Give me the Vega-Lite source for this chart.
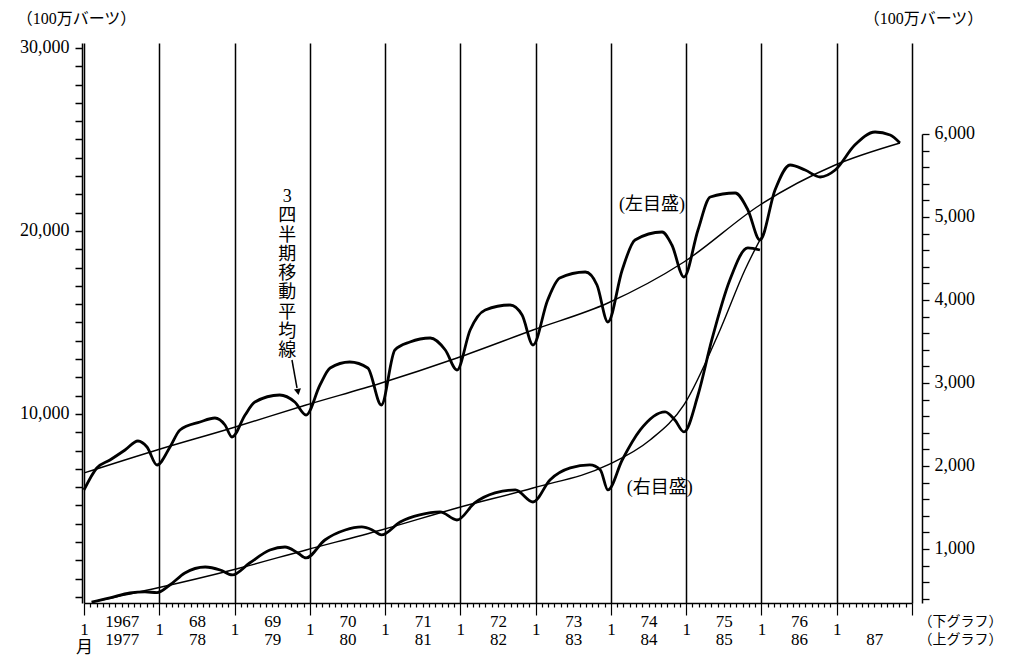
{
  "$schema": "https://vega.github.io/schema/vega-lite/v6.json",
  "width": 828,
  "height": 560,
  "autosize": {"type": "none"},
  "padding": {"left": 84, "top": 43, "right": 108, "bottom": 62},
  "background": "white",
  "config": {"view": {"stroke": null}},
  "datasets": {
    "upper": [
      {"kind": "raw", "t": 0, "v": 5847}, {"kind": "raw", "t": 0.17, "v": 7049}, {"kind": "raw", "t": 0.345, "v": 7486}, {"kind": "raw", "t": 0.545, "v": 8033}, {"kind": "raw", "t": 0.717, "v": 8525}, {"kind": "raw", "t": 0.837, "v": 8197}, {"kind": "raw", "t": 0.97, "v": 7213},
      {"kind": "raw", "t": 1.143, "v": 8197}, {"kind": "raw", "t": 1.275, "v": 9126}, {"kind": "raw", "t": 1.541, "v": 9563}, {"kind": "raw", "t": 1.74, "v": 9781}, {"kind": "raw", "t": 1.873, "v": 9399}, {"kind": "raw", "t": 1.966, "v": 8743},
      {"kind": "raw", "t": 2.14, "v": 9945}, {"kind": "raw", "t": 2.27, "v": 10656}, {"kind": "raw", "t": 2.6, "v": 11038}, {"kind": "raw", "t": 2.8, "v": 10656}, {"kind": "raw", "t": 2.95, "v": 9945},
      {"kind": "raw", "t": 3.135, "v": 11585}, {"kind": "raw", "t": 3.27, "v": 12514}, {"kind": "raw", "t": 3.53, "v": 12842}, {"kind": "raw", "t": 3.77, "v": 12514}, {"kind": "raw", "t": 3.95, "v": 10492},
      {"kind": "raw", "t": 4.13, "v": 13497}, {"kind": "raw", "t": 4.33, "v": 13934}, {"kind": "raw", "t": 4.6, "v": 14153}, {"kind": "raw", "t": 4.8, "v": 13497}, {"kind": "raw", "t": 4.955, "v": 12404},
      {"kind": "raw", "t": 5.13, "v": 14590}, {"kind": "raw", "t": 5.33, "v": 15683}, {"kind": "raw", "t": 5.66, "v": 15956}, {"kind": "raw", "t": 5.82, "v": 15410}, {"kind": "raw", "t": 5.965, "v": 13770},
      {"kind": "raw", "t": 6.16, "v": 16230}, {"kind": "raw", "t": 6.32, "v": 17432}, {"kind": "raw", "t": 6.66, "v": 17760}, {"kind": "raw", "t": 6.815, "v": 17049}, {"kind": "raw", "t": 6.96, "v": 15027},
      {"kind": "raw", "t": 7.15, "v": 17869}, {"kind": "raw", "t": 7.32, "v": 19508}, {"kind": "raw", "t": 7.68, "v": 19945}, {"kind": "raw", "t": 7.81, "v": 19235}, {"kind": "raw", "t": 7.97, "v": 17486},
      {"kind": "raw", "t": 8.157, "v": 20055}, {"kind": "raw", "t": 8.32, "v": 21858}, {"kind": "raw", "t": 8.65, "v": 22077}, {"kind": "raw", "t": 8.82, "v": 21148}, {"kind": "raw", "t": 8.98, "v": 19508},
      {"kind": "raw", "t": 9.18, "v": 22240}, {"kind": "raw", "t": 9.38, "v": 23607}, {"kind": "raw", "t": 9.58, "v": 23333}, {"kind": "raw", "t": 9.78, "v": 22951}, {"kind": "raw", "t": 9.98, "v": 23333},
      {"kind": "raw", "t": 10.24, "v": 24699}, {"kind": "raw", "t": 10.51, "v": 25410}, {"kind": "raw", "t": 10.71, "v": 25246}, {"kind": "raw", "t": 10.84, "v": 24809},
      {"kind": "ma", "t": 0, "v": 6776}, {"kind": "ma", "t": 0.97, "v": 8033}, {"kind": "ma", "t": 1.966, "v": 9235}, {"kind": "ma", "t": 2.95, "v": 10492}, {"kind": "ma", "t": 3.95, "v": 11694}, {"kind": "ma", "t": 4.955, "v": 13060}, {"kind": "ma", "t": 5.965, "v": 14590}, {"kind": "ma", "t": 6.96, "v": 16066}, {"kind": "ma", "t": 7.97, "v": 18306}, {"kind": "ma", "t": 8.98, "v": 21421}, {"kind": "ma", "t": 9.98, "v": 23607}, {"kind": "ma", "t": 10.84, "v": 24809}
    ],
    "lower": [
      {"kind": "raw", "t": 0.1, "v": 360}, {"kind": "raw", "t": 0.345, "v": 410}, {"kind": "raw", "t": 0.61, "v": 470}, {"kind": "raw", "t": 0.81, "v": 482}, {"kind": "raw", "t": 0.97, "v": 475},
      {"kind": "raw", "t": 1.14, "v": 566}, {"kind": "raw", "t": 1.34, "v": 711}, {"kind": "raw", "t": 1.61, "v": 783}, {"kind": "raw", "t": 1.81, "v": 747}, {"kind": "raw", "t": 1.97, "v": 687},
      {"kind": "raw", "t": 2.2, "v": 831}, {"kind": "raw", "t": 2.47, "v": 988}, {"kind": "raw", "t": 2.67, "v": 1024}, {"kind": "raw", "t": 2.84, "v": 952}, {"kind": "raw", "t": 2.95, "v": 892},
      {"kind": "raw", "t": 3.2, "v": 1108}, {"kind": "raw", "t": 3.47, "v": 1229}, {"kind": "raw", "t": 3.69, "v": 1265}, {"kind": "raw", "t": 3.83, "v": 1229}, {"kind": "raw", "t": 3.95, "v": 1169},
      {"kind": "raw", "t": 4.2, "v": 1325}, {"kind": "raw", "t": 4.46, "v": 1410}, {"kind": "raw", "t": 4.73, "v": 1446}, {"kind": "raw", "t": 4.955, "v": 1349},
      {"kind": "raw", "t": 5.19, "v": 1554}, {"kind": "raw", "t": 5.46, "v": 1675}, {"kind": "raw", "t": 5.73, "v": 1711}, {"kind": "raw", "t": 5.965, "v": 1566},
      {"kind": "raw", "t": 6.19, "v": 1831}, {"kind": "raw", "t": 6.46, "v": 1976}, {"kind": "raw", "t": 6.72, "v": 2012}, {"kind": "raw", "t": 6.86, "v": 1952}, {"kind": "raw", "t": 6.96, "v": 1711},
      {"kind": "raw", "t": 7.15, "v": 2072}, {"kind": "raw", "t": 7.39, "v": 2434}, {"kind": "raw", "t": 7.72, "v": 2651}, {"kind": "raw", "t": 7.85, "v": 2554}, {"kind": "raw", "t": 7.97, "v": 2410},
      {"kind": "raw", "t": 8.157, "v": 2855}, {"kind": "raw", "t": 8.34, "v": 3518}, {"kind": "raw", "t": 8.58, "v": 4241}, {"kind": "raw", "t": 8.82, "v": 4627}, {"kind": "raw", "t": 8.98, "v": 4602},
      {"kind": "ma", "t": 0.15, "v": 370}, {"kind": "ma", "t": 0.97, "v": 530}, {"kind": "ma", "t": 1.97, "v": 747}, {"kind": "ma", "t": 2.95, "v": 988}, {"kind": "ma", "t": 3.95, "v": 1229}, {"kind": "ma", "t": 4.955, "v": 1494}, {"kind": "ma", "t": 5.965, "v": 1735}, {"kind": "ma", "t": 6.96, "v": 2012}, {"kind": "ma", "t": 7.52, "v": 2313}, {"kind": "ma", "t": 7.97, "v": 2735}, {"kind": "ma", "t": 8.45, "v": 3639}, {"kind": "ma", "t": 8.78, "v": 4361}, {"kind": "ma", "t": 9.05, "v": 4843}
    ],
    "notes": [
      {"t": 2.70, "v": 22350, "label": "3\n四\n半\n期\n移\n動\n平\n均\n線"},
      {"t": 7.546, "v": 21913, "label": "(左目盛)"},
      {"t": 7.65, "v": 6448, "label": "(右目盛)"}
    ],
    "arrow": [
      {"t": 2.763, "v": 12951, "t2": 2.83, "v2": 11421}
    ],
    "head": [
      {"t": 2.843, "v": 11202}
    ]
  },
  "encoding": {
    "x": {
      "field": "t",
      "type": "quantitative",
      "scale": {"domain": [0, 11], "nice": false, "zero": false},
      "axis": {
        "title": ["（下グラフ）", "（上グラフ）"],
        "titleX": 834,
        "titleY": 11,
        "titleAlign": "left",
        "titleBaseline": "top",
        "titleAngle": 0,
        "titleFont": "Noto Sans CJK JP",
        "titleFontSize": 14,
        "titleFontWeight": "normal",
        "titleColor": "black",
        "titleLineHeight": 18,
        "values": [0,0.0833,0.1667,0.25,0.3333,0.4167,0.5,0.5833,0.6667,0.75,0.8333,0.9167,1,1.0833,1.1667,1.25,1.3333,1.4167,1.5,1.5833,1.6667,1.75,1.8333,1.9167,2,2.0833,2.1667,2.25,2.3333,2.4167,2.5,2.5833,2.6667,2.75,2.8333,2.9167,3,3.0833,3.1667,3.25,3.3333,3.4167,3.5,3.5833,3.6667,3.75,3.8333,3.9167,4,4.0833,4.1667,4.25,4.3333,4.4167,4.5,4.5833,4.6667,4.75,4.8333,4.9167,5,5.0833,5.1667,5.25,5.3333,5.4167,5.5,5.5833,5.6667,5.75,5.8333,5.9167,6,6.0833,6.1667,6.25,6.3333,6.4167,6.5,6.5833,6.6667,6.75,6.8333,6.9167,7,7.0833,7.1667,7.25,7.3333,7.4167,7.5,7.5833,7.6667,7.75,7.8333,7.9167,8,8.0833,8.1667,8.25,8.3333,8.4167,8.5,8.5833,8.6667,8.75,8.8333,8.9167,9,9.0833,9.1667,9.25,9.3333,9.4167,9.5,9.5833,9.6667,9.75,9.8333,9.9167,10,10.0833,10.1667,10.25,10.3333,10.4167,10.5,10.5833,10.6667,10.75,10.8333,10.9167,11],
        "labelExpr": "abs(datum.value - round(datum.value)) < 0.01 ? (datum.value < 0.01 ? ['1', '月'] : (datum.value < 10.5 ? '1' : '')) : (abs(datum.value - floor(datum.value) - 0.5) < 0.01 ? [['1967','68','69','70','71','72','73','74','75','76',''][floor(datum.value)], ['1977','78','79','80','81','82','83','84','85','86','87'][floor(datum.value)]] : '')",
        "labelFont": "Liberation Serif, Noto Sans CJK JP",
        "labelFontSize": 17,
        "labelColor": "black",
        "labelLineHeight": 18,
        "labelBaseline": "top",
        "labelAlign": "center",
        "labelPadding": 6,
        "labelOverlap": false,
        "labelBound": false,
        "labelFlush": false,
        "domainColor": "black",
        "domainWidth": 1.5,
        "tickColor": "black",
        "tickWidth": 1.2,
        "tickSize": {"condition": {"test": "abs(datum.value - round(datum.value)) < 0.01", "value": 12}, "value": 4},
        "grid": true,
        "gridColor": "black",
        "gridWidth": 1.5,
        "gridOpacity": {"condition": {"test": "abs(datum.value - round(datum.value)) < 0.01", "value": 1}, "value": 0}
      }
    }
  },
  "layer": [
    {
      "encoding": {
        "y": {
          "field": "v",
          "type": "quantitative",
          "scale": {"domain": [-328, 30273], "nice": false, "zero": false},
          "axis": {
            "orient": "left",
            "offset": 2,
            "values": [0,1000,2000,3000,4000,5000,6000,7000,8000,9000,10000,11000,12000,13000,14000,15000,16000,17000,18000,19000,20000,21000,22000,23000,24000,25000,26000,27000,28000,29000,30000],
            "labelExpr": "datum.value % 10000 == 0 && datum.value > 0 ? format(datum.value, ',') : ''",
            "labelFont": "Liberation Serif",
            "labelFontSize": 18,
            "labelColor": "black",
            "labelPadding": 6,
            "labelOverlap": false,
            "labelBound": false,
            "labelFlush": false,
            "tickSize": 7,
            "tickWidth": 1.5,
            "tickColor": "black",
            "domainColor": "black",
            "domainWidth": 1.5,
            "grid": false,
            "title": "（100万バーツ）",
            "titleAngle": 0,
            "titleX": -6,
            "titleY": -25,
            "titleAlign": "center",
            "titleBaseline": "middle",
            "titleFont": "Liberation Serif, Noto Sans CJK JP",
            "titleFontSize": 16,
            "titleFontWeight": "normal",
            "titleColor": "black"
          }
        }
      },
      "layer": [
        {
          "data": {"name": "upper"},
          "mark": {"type": "line", "interpolate": "monotone", "color": "black"},
          "encoding": {
            "strokeWidth": {"field": "kind", "type": "nominal", "scale": {"domain": ["raw", "ma"], "range": [2.8, 1.4]}, "legend": null}
          }
        },
        {
          "data": {"name": "notes"},
          "mark": {"type": "text", "baseline": "top", "align": "center", "lineBreak": "\n", "lineHeight": 19.3, "font": "Liberation Serif, Noto Sans CJK JP", "fontSize": 18, "color": "black"},
          "encoding": {"text": {"field": "label", "type": "nominal"}}
        },
        {
          "data": {"name": "arrow"},
          "mark": {"type": "rule", "color": "black", "strokeWidth": 1.5},
          "encoding": {
            "x2": {"field": "t2"},
            "y2": {"field": "v2"}
          }
        },
        {
          "data": {"name": "head"},
          "mark": {"type": "point", "shape": "triangle-down", "filled": true, "color": "black", "size": 50, "angle": 350, "opacity": 1},
          "encoding": {}
        }
      ]
    },
    {
      "encoding": {
        "y": {
          "field": "v",
          "type": "quantitative",
          "scale": {"domain": [349, 7096], "nice": false, "zero": false},
          "axis": {
            "orient": "right",
            "offset": 10,
            "values": [400,600,800,1000,1200,1400,1600,1800,2000,2200,2400,2600,2800,3000,3200,3400,3600,3800,4000,4200,4400,4600,4800,5000,5200,5400,5600,5800,6000],
            "labelExpr": "datum.value % 1000 == 0 ? format(datum.value, ',') : ''",
            "labelFont": "Liberation Serif",
            "labelFontSize": 18,
            "labelColor": "black",
            "labelPadding": 5,
            "labelOverlap": false,
            "labelBound": false,
            "labelFlush": false,
            "tickSize": 7,
            "tickWidth": 1.3,
            "tickColor": "black",
            "domainColor": "black",
            "domainWidth": 1.5,
            "domainDash": [469, 2000],
            "grid": false,
            "title": "（100万バーツ）",
            "titleAngle": 0,
            "titleX": 1,
            "titleY": -25,
            "titleAlign": "center",
            "titleBaseline": "middle",
            "titleFont": "Liberation Serif, Noto Sans CJK JP",
            "titleFontSize": 16,
            "titleFontWeight": "normal",
            "titleColor": "black"
          }
        }
      },
      "layer": [
        {
          "data": {"name": "lower"},
          "mark": {"type": "line", "interpolate": "monotone", "color": "black"},
          "encoding": {
            "strokeWidth": {"field": "kind", "type": "nominal", "scale": {"domain": ["raw", "ma"], "range": [2.8, 1.4]}, "legend": null}
          }
        }
      ]
    }
  ],
  "resolve": {"scale": {"y": "independent", "strokeWidth": "shared"}, "axis": {"y": "independent"}}
}
